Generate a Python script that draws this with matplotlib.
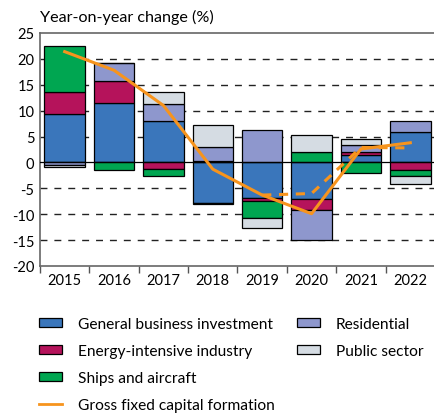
import numpy as np
import matplotlib
matplotlib.use("Agg")
import matplotlib.pyplot as plt
from matplotlib.patches import Patch
from matplotlib.lines import Line2D

plt.rcParams['font.family'] = ['Lato', 'DejaVu Sans']

years = ['2015', '2016', '2017', '2018', '2019', '2020', '2021', '2022']
general_business = [9.3, 11.5, 8.0, -7.8, -6.9, -7.1, 1.5, 5.9]
energy_intensive = [4.4, 4.3, -1.3, 0.2, -0.5, -2.1, 0.45, -1.55]
ships_aircraft = [8.7, -1.4, -1.4, -0.3, -3.4, 1.95, -2.1, -1.15]
residential = [-0.4, 3.4, 3.35, 2.8, 6.3, -5.8, 1.5, 2.1]
public_sector = [-0.5, 0.0, 2.3, 4.2, -1.8, 3.3, 1.1, -1.45]
gfcf = [21.4, 17.8, 11.0, -1.3, -6.3, -9.9, 2.6, 3.8]
gfcf_alt = [np.nan, np.nan, np.nan, np.nan, -6.3, -6.0, 2.9, 2.8]

series = [
    ('General business investment', general_business, '#3A76BB'),
    ('Energy-intensive industry', energy_intensive, '#B5135B'),
    ('Ships and aircraft', ships_aircraft, '#00A651'),
    ('Residential', residential, '#8E97CD'),
    ('Public sector', public_sector, '#D5DCE3'),
]
orange = '#F7941D'

W, H = 435, 414
fig = plt.figure(figsize=(W / 100, H / 100), dpi=100)
ax = fig.add_axes([40 / W, 1 - 267 / H, 395 / W, 233 / H])

x = np.arange(len(years))
pos_base = np.zeros(len(years))
neg_base = np.zeros(len(years))
for name, vals, col in series:
    v = np.array(vals, dtype=float)
    bottoms = np.where(v >= 0, pos_base, neg_base)
    ax.bar(x, v, bottom=bottoms, width=0.82, color=col, edgecolor='black',
           linewidth=0.9, zorder=2)
    pos_base = pos_base + np.where(v > 0, v, 0)
    neg_base = neg_base + np.where(v < 0, v, 0)

for g in [-15, -10, -5, 5, 10, 15, 20]:
    ax.axhline(g, color='#222222', lw=1.0, dashes=(5, 5), zorder=0)
ax.axhline(0, color='black', lw=0.9, zorder=3)

ax.plot(x, gfcf, color=orange, lw=2.2, zorder=4, solid_joinstyle='round')
ax.plot(x, gfcf_alt, color=orange, lw=2.2, dashes=(3, 2.5), zorder=4)

ax.set_xlim(-0.5, len(years) - 0.5)
ax.set_ylim(-20, 25)
ax.set_yticks(np.arange(-20, 26, 5))
ax.set_yticklabels([str(v) for v in range(-20, 26, 5)])
ax.set_xticks(x)
ax.set_xticklabels(years)
ax.set_xticks(np.arange(-0.5, len(years), 1), minor=True)
ax.tick_params(axis='x', which='major', length=0, pad=5, labelsize=10.5)
ax.tick_params(axis='x', which='minor', length=5, width=1, color='#555555', direction='out')
ax.tick_params(axis='y', length=0, pad=4, labelsize=10.5)
for s in ['top', 'left', 'bottom']:
    ax.spines[s].set_color('#666666')
    ax.spines[s].set_linewidth(1.2)
ax.spines['right'].set_visible(False)

fig.text(40 / W, 1 - 17 / H, 'Year-on-year change (%)', fontsize=11.6,
         ha='left', va='center')

def ph(col):
    return Patch(facecolor=col, edgecolor='black', linewidth=0.9)

h1 = [ph(series[0][2]), ph(series[1][2]), ph(series[2][2]),
      Line2D([], [], color=orange, lw=2)]
l1 = [series[0][0], series[1][0], series[2][0], 'Gross fixed capital formation']
h2 = [ph(series[3][2]), ph(series[4][2])]
l2 = [series[3][0], series[4][0]]

common = dict(frameon=False, fontsize=11.2, handlelength=1.48, handleheight=0.55,
              handletextpad=1.03, labelspacing=0.83, borderpad=0, borderaxespad=0)
leg1 = fig.legend(h1, l1, loc='upper left', bbox_to_anchor=(39 / W, 1 - 318 / H), **common)
leg2 = fig.legend(h2, l2, loc='upper left', bbox_to_anchor=(297 / W, 1 - 318 / H), **common)

fig.savefig('out.png', dpi=100)
